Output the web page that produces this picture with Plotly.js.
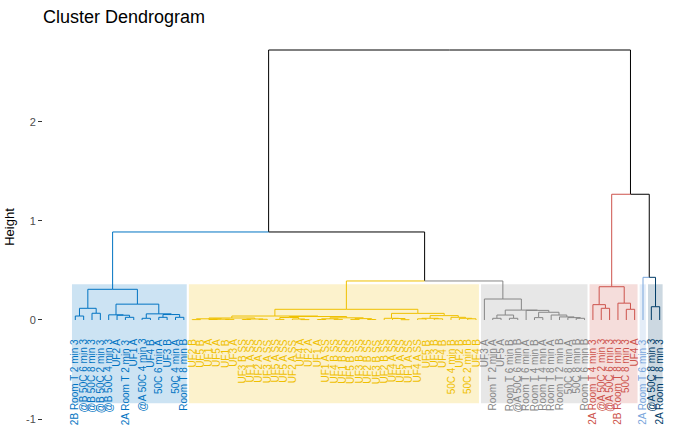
<!DOCTYPE html>
<html>
<head>
<meta charset="utf-8">
<script src="https://cdn.plot.ly/plotly-3.0.1.min.js"></script>
<style>html,body{margin:0;padding:0;background:#fff;}#chart{width:700px;height:432px;}</style>
</head>
<body>
<div id="chart"></div>
<script>
// ---- leaf labels in dendrogram order (left to right) ----
const labels = [
  "2B Room T 2 min 3","@B 50C 6 min 3","@B 50C 8 min 3","@B 50C 2 min 3","@B 50C 4 min 3",
  "UF2 A","2A Room T 2 min 3","UF1 A","@A 50C 4 min 3","UF4 B","50C 6 min A","UF3 B","50C 4 min A","Room T 8 min B",
  "UF2 B","UF5 B","UF1 A","UF5 A","UF1 B","UF3 A",
  "UF3 B SS","UF1 A SS","UF2 A SS","UF3 A SS","UF5 A SS","UF5 A SS","UF2 A SS",
  "UF4 A","UF2 A","UF1 A",
  "UF1 A SS","UF4 B SS","UF1 B SS","UF5 B SS","UF3 B SS","UF2 B SS","UF3 B SS","UF2 B SS","UF4 A SS","UF5 A SS","UF1 A SS","UF4 A SS",
  "UF5 B","UF3 B","UF4 B","50C 4 min B","UF2 B","50C 2 min B","UF4 B",
  "UF3 A","Room T 2 min A","UF5 A","Room T 6 min B","@A 50C 6 min B","Room T 6 min A","Room T 4 min B",
  "Room T 4 min A","Room T 8 min A","Room T 2 min B","50C 8 min A","50C 8 min B","Room T 6 min B",
  "2A Room T 4 min 3","@A 50C 2 min 3","@A 50C 6 min 3","2B Room T 8 min 3","50C 8 min 3","UF4 A",
  "2A Room T 6 min 3",
  "@A 50C 8 min 3","2A Room T 8 min 3"
];
// number of leaves per cluster (in order) and cluster colours (jco palette)
const clusterSizes = [14, 35, 13, 6, 1, 2];
const clusterColors = ["#0073C2", "#EFC000", "#868686", "#CD534C", "#7AA6DC", "#003C67"];
const rectFills = ["rgba(0,115,194,0.2)", "rgba(239,192,0,0.2)", "rgba(134,134,134,0.2)",
                   "rgba(205,83,76,0.2)", "rgba(122,166,220,0.2)", "rgba(0,60,103,0.2)"];

// ---- merge trees: [height, left, right]; numbers are leaf positions ----
const blueTree = [0.31,
  [0.118, [0.04, 1, 2], [0.068, 3, 4]],
  [0.16, [0.052, 5, [0.048, 6, [0.027, 7, 8]]],
         [0.062, [0.017, 9, 10], [0.055, [0.027, 11, 12], [0.027, 13, 14]]]]];
const yellowTree = [0.108,
  [0.04,
    [0.02, [0.012, [0.004, 15, 16], [0.008, [0.005, 17, 18], [0.006, 19, 20]]],
           [0.01, [0.005, 21, 22], [0.007, 23, 24]]],
    [0.035, [0.025, [0.006, 25, 26], [0.01, 27, [0.004, 28, 29]]],
            [0.022, [0.012, [0.005, 30, 31], [0.006, 32, 33]], [0.014, [0.006, 34, 35], [0.005, 36, 37]]]]],
  [0.067,
    [0.017, 38, [0.015, 39, [0.003, 40, 41]]],
    [0.044, [0.017, [0.012, 42, 43], [0.012, 44, 45]],
            [0.027, 46, [0.017, 47, [0.012, 48, 49]]]]]];
const greyTree = [0.212, 50,
  [0.1, [0.05, [0.017, 51, 52], [0.017, 53, 54]],
        [0.097, 55, [0.078, [0.024, 56, 57], [0.05, 58, [0.031, 59, [0.024, 60, [0.017, 61, 62]]]]]]]];
const redTree = [0.336, [0.155, 63, [0.118, 64, 65]], [0.17, 66, [0.108, 67, 68]]];
const lightBlueTree = 69;
const darkBlueTree = [0.134, 70, 71];
// upper merges
const hYellowGrey = 0.394, hLeft = 0.889, hPair = 0.431, hRight = 1.27, hRoot = 2.727;
const tree = [hRoot,
  [hLeft, blueTree, [hYellowGrey, yellowTree, greyTree]],
  [hRight, redTree, [hPair, lightBlueTree, darkBlueTree]]];

// ---- derive leaf clusters ----
const leafCluster = [];
clusterSizes.forEach((n, c) => { for (let i = 0; i < n; i++) leafCluster.push(c); });

function build(node) {
  if (typeof node === "number") return {x: node, h: 0, cl: leafCluster[node - 1], kids: []};
  const a = build(node[1]), b = build(node[2]);
  return {x: (a.x + b.x) / 2, h: node[0], cl: (a.cl === b.cl ? a.cl : -1), kids: [a, b]};
}
const root = build(tree);

const segs = {};
function walk(n) {
  n.kids.forEach(k => {
    const col = k.cl >= 0 ? clusterColors[k.cl] : "#000000";
    if (!segs[col]) segs[col] = {x: [], y: []};
    segs[col].x.push(k.x, k.x, n.x, null);
    segs[col].y.push(k.h, n.h, n.h, null);
    walk(k);
  });
}
walk(root);

const traces = Object.keys(segs).map(col => ({
  type: "scatter", mode: "lines", x: segs[col].x, y: segs[col].y,
  line: {color: col, width: 1}, hoverinfo: "skip", showlegend: false
}));

// rectangles around clusters
const shapes = [];
let start = 1;
clusterSizes.forEach((n, c) => {
  shapes.push({type: "rect", xref: "x", yref: "y", layer: "below",
    x0: start - 0.4, x1: start + n - 1 + 0.35, y0: -0.84, y1: 0.36,
    fillcolor: rectFills[c], line: {width: 0}});
  start += n;
});

const annotations = labels.map((t, i) => ({
  x: i + 1, y: -0.17, xref: "x", yref: "y", text: t, showarrow: false,
  textangle: -90, xanchor: "center", yanchor: "top",
  font: {family: "Liberation Sans, Arial, sans-serif", size: 10, color: clusterColors[leafCluster[i]]}
}));

const layout = {
  width: 700, height: 432,
  margin: {l: 43, r: 8, t: 30, b: 8},
  paper_bgcolor: "#fff", plot_bgcolor: "#fff",
  title: {text: "Cluster Dendrogram", x: 0, xref: "paper", xanchor: "left",
          y: 0.962, yref: "container", yanchor: "middle",
          font: {family: "Liberation Sans, Arial, sans-serif", size: 18, color: "#000"}},
  xaxis: {range: [-2.87, 74.87], showgrid: false, zeroline: false, showticklabels: false,
          ticks: "", showline: false},
  yaxis: {range: [-1.0505, 2.929], tickvals: [-1, 0, 1, 2], ticktext: ["-1", "0", "1", "2"],
          ticks: "outside", ticklen: 4, tickcolor: "#333", showgrid: false, zeroline: false, showline: false,
          tickfont: {family: "Liberation Sans, Arial, sans-serif", size: 11, color: "#4D4D4D"},
          title: {text: "Height", standoff: 8,
                  font: {family: "Liberation Sans, Arial, sans-serif", size: 13, color: "#000"}}},
  shapes: shapes, annotations: annotations, showlegend: false
};
Plotly.newPlot("chart", traces, layout, {staticPlot: true});
</script>
</body>
</html>
